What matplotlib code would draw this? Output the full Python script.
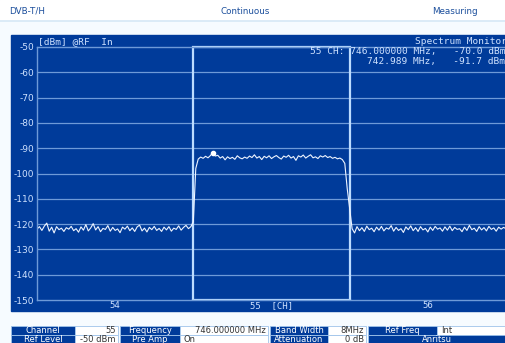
import numpy as np
import matplotlib.pyplot as plt
from matplotlib.patches import Rectangle

# sweep levels (dBm), one list per channel
ch54_levels = [-122.0, -121.0, -122.5, -120.8, -119.6, -122.8, -121.2, -123.5, -121.0, -122.2,
               -121.6, -122.9, -121.4, -122.0, -120.9, -122.6, -121.8, -123.2, -121.1, -122.4,
               -120.2, -122.7, -121.5, -119.8, -122.3, -121.0, -123.0, -121.7, -122.1, -120.6,
               -122.8, -121.3, -122.5, -121.9, -123.4, -121.2, -122.0, -120.8, -122.6, -121.5,
               -122.9, -121.1, -120.4, -122.7, -121.6, -123.1, -121.3, -122.2, -120.9, -122.5,
               -121.7, -122.9, -121.2, -122.3, -121.0, -122.8, -121.6, -122.1, -120.7, -122.4,
               -121.3, -120.5, -121.8, -121.0]
ch55_levels = [-119.0, -98.0, -94.3, -93.5, -94.0, -93.2, -93.8, -92.9, -91.7, -93.1,
               -92.8, -93.9, -93.3, -94.6, -93.4, -94.1, -93.6, -94.4, -93.0, -93.8,
               -94.2, -93.5, -94.0, -93.1, -93.7, -92.6, -93.9, -93.3, -94.5, -93.2,
               -93.8, -93.0, -94.1, -93.4, -92.9, -93.7, -94.3, -93.1, -93.6, -92.8,
               -93.9, -93.3, -94.8, -93.0, -93.5, -92.7, -93.9, -93.2, -92.6, -93.8,
               -93.4, -94.1, -93.0, -93.5, -92.9, -93.7, -93.3, -94.0, -93.6, -94.2,
               -93.9, -94.5, -96.0, -106.0]
ch56_levels = [-114.0, -121.8, -123.5, -121.0, -122.6, -121.4, -122.9, -120.8, -122.2, -121.6,
               -123.0, -121.2, -122.4, -120.9, -122.7, -121.5, -122.0, -120.6, -122.8, -121.3,
               -122.5, -121.8, -123.3, -121.1, -122.2, -120.7, -122.6, -121.4, -122.9, -121.0,
               -122.3, -121.7, -123.1, -121.2, -122.5, -120.9, -122.0, -121.5, -122.8, -121.1,
               -122.4, -120.8, -122.6, -121.3, -122.1, -121.8, -123.0, -121.2, -122.5, -120.5,
               -122.2, -121.6, -122.9, -121.0, -122.3, -121.4, -122.7, -120.9, -122.1, -121.5,
               -122.8, -121.2, -122.0, -121.3, -121.8]

channels = ["54", "55  [CH]", "56"]
ch_centers = [738, 746, 754]
ch_edges = [742, 750]
marker_freq = 742.989
marker_level = -91.7
y_ticks = [-50, -60, -70, -80, -90, -100, -110, -120, -130, -140, -150]

row1 = [("Channel", "55"), ("Frequency", "746.000000 MHz"), ("Band Width", "8MHz"), ("Ref Freq", "Int")]
row2 = [("Ref Level", "-50 dBm"), ("Pre Amp", "On"), ("Attenuation", "0 dB"), ("Anritsu", None)]

freq = np.concatenate([
    np.linspace(734, 742, len(ch54_levels), endpoint=False),
    np.linspace(742, 750, len(ch55_levels), endpoint=False),
    np.linspace(750, 758, len(ch56_levels)),
])
level = np.array(ch54_levels + ch55_levels + ch56_levels)

BLUE = "#003b9a"
GRID = "#6e9ad8"
LIGHT = "#cfe2ff"
BRIGHT = "#bcdcff"
BORDER = "#9fc3ea"

fig = plt.figure(figsize=(5.06, 3.43), dpi=100, facecolor="#f6fbff")

# overlay in pixel coordinates for the screen furniture
ov = fig.add_axes([0, 0, 1, 1])
ov.set_xlim(0, 506)
ov.set_ylim(343, 0)
ov.axis("off")
ov.add_patch(Rectangle((0, 0), 506, 20, color="white"))
ov.plot([0, 506], [20.5, 20.5], color="#d6e8f6", lw=1.2)
ov.text(9, 14, "DVB-T/H", color="#1c4f9c", fontsize=6.3)
ov.text(245, 14, "Continuous", color="#1c4f9c", fontsize=6.3, ha="center")
ov.text(455, 14, "Measuring", color="#1c4f9c", fontsize=6.3, ha="center")
ov.add_patch(Rectangle((11, 35), 495, 276, color=BLUE))
ov.text(38, 41.5, "[dBm] @RF  In", family="DejaVu Sans Mono", color=LIGHT, fontsize=6.8, va="center")
ov.text(507, 41.5, "Spectrum Monitor", family="DejaVu Sans Mono", color=LIGHT, fontsize=6.8,
        va="center", ha="right")

# bottom parameter table (second row runs off the screen bottom as in the capture)
col_x = [(11, 75, 118), (120, 180, 268), (270, 328, 366), (368, 437, 506)]
for r, (row, y0) in enumerate([(row1, 326), (row2, 335)]):
    for (x0, x1, x2), (name, val) in zip(col_x, row):
        if val is None:
            ov.add_patch(Rectangle((x0, y0), x2 - x0, 8.5, facecolor=BLUE, edgecolor=BORDER, lw=0.6))
            ov.text((x0 + x2) / 2, y0 + 4.5, name, color="white", fontsize=6, ha="center", va="center")
            continue
        ov.add_patch(Rectangle((x0, y0), x1 - x0, 8.5, facecolor=BLUE, edgecolor=BORDER, lw=0.6))
        ov.add_patch(Rectangle((x1, y0), x2 - x1, 8.5, facecolor="white", edgecolor=BORDER, lw=0.6))
        ov.text((x0 + x1) / 2, y0 + 4.5, name, color="white", fontsize=6, ha="center", va="center")
        if val in ("Int", "On"):
            ov.text(x1 + 4, y0 + 4.5, val, color="#333333", fontsize=6, ha="left", va="center")
        else:
            ov.text(x2 - 2, y0 + 4.5, val, color="#333333", fontsize=6, ha="right", va="center")

# spectrum plot
ax = fig.add_axes([37 / 506, 1 - 300 / 343, 1 - 37 / 506, 253 / 343])
ax.set_facecolor(BLUE)
ax.set_xlim(734, 758)
ax.set_ylim(-150, -50)
for y in y_ticks[1:-1]:
    ax.axhline(y, color=GRID, lw=0.9)
for s in ["left", "bottom", "top"]:
    ax.spines[s].set_color(GRID)
    ax.spines[s].set_linewidth(1.0)
ax.spines["right"].set_visible(False)
ax.plot([ch_edges[0]] * 2, [-150, -50], color=BRIGHT, lw=1.6)
ax.plot([ch_edges[1]] * 2, [-150, -50], color=BRIGHT, lw=1.6)
ax.plot(ch_edges, [-150, -150], color=BRIGHT, lw=1.6)
ax.plot(ch_edges, [-50, -50], color=BRIGHT, lw=1.6, clip_on=False)

ax.plot(freq, level, color="#eef4ff", lw=0.8)
ax.plot(marker_freq, marker_level, "o", color="white", ms=3)

ax.text(0.998, 1.0, "55 CH: 746.000000 MHz,   -70.0 dBm", transform=ax.transAxes,
        family="DejaVu Sans Mono", color=LIGHT, fontsize=6.8, ha="right", va="top")
ax.text(0.998, 0.96, f"{marker_freq:.3f} MHz,   {marker_level:.1f} dBm", transform=ax.transAxes,
        family="DejaVu Sans Mono", color=LIGHT, fontsize=6.8, ha="right", va="top")

ax.set_yticks(y_ticks)
ax.set_yticklabels([str(v) for v in y_ticks])
ax.set_xticks(ch_centers)
ax.set_xticklabels(channels, family="DejaVu Sans Mono")
ax.tick_params(axis="y", length=0, pad=2, labelsize=6.5, labelcolor=LIGHT)
ax.tick_params(axis="x", length=0, pad=1, labelsize=6.5, labelcolor=LIGHT)
ax.set_zorder(2)

fig.savefig("out.png", dpi=100, facecolor=fig.get_facecolor())
